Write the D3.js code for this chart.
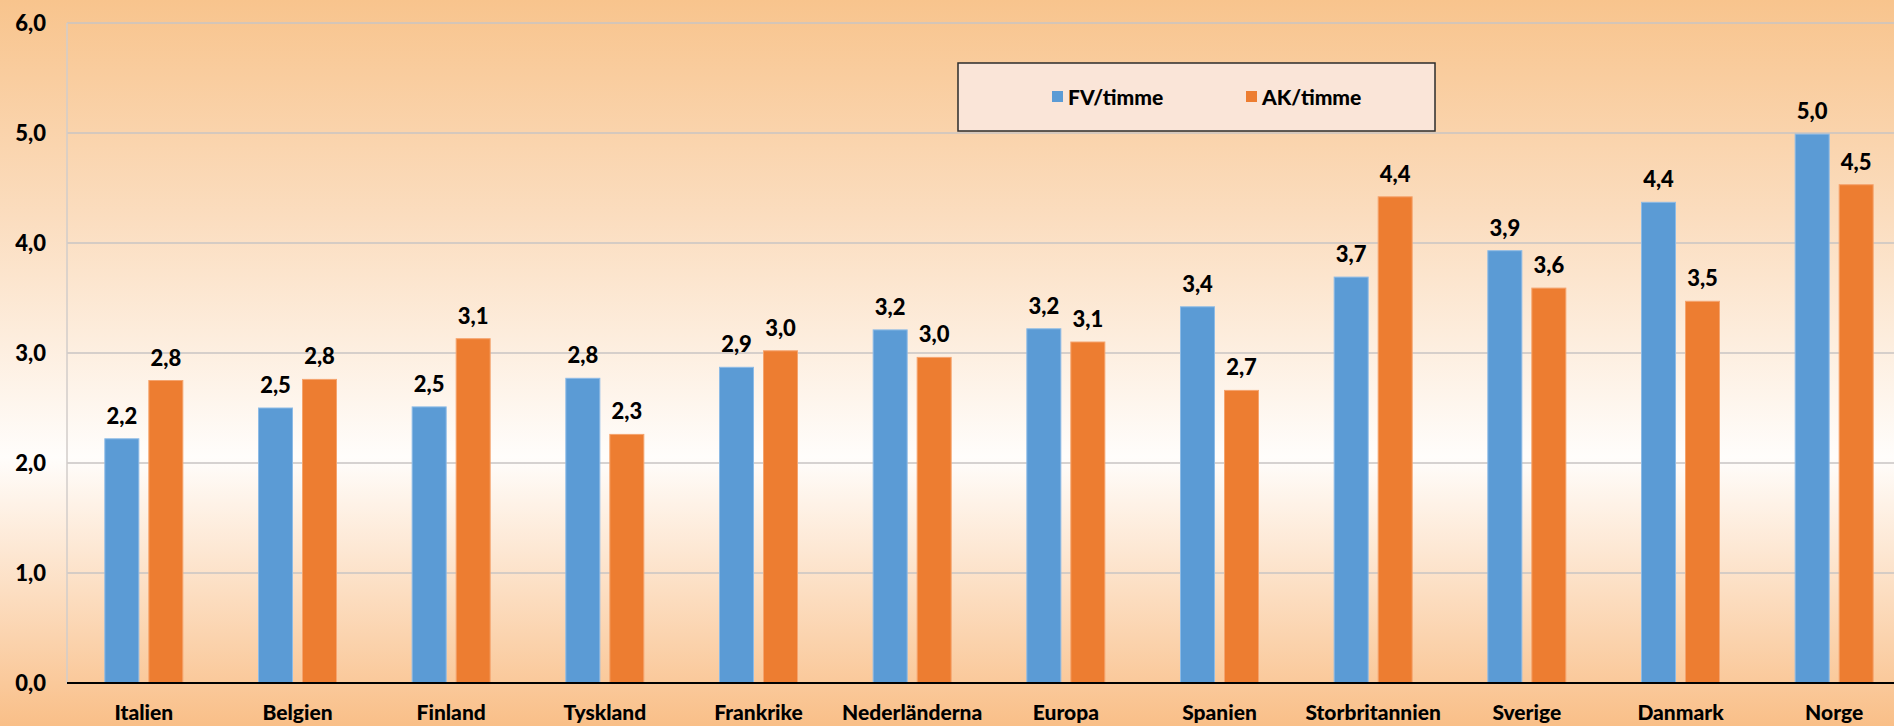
<!DOCTYPE html>
<html>
<head>
<meta charset="utf-8">
<script src="https://cdn.jsdelivr.net/npm/d3@7"></script>
<style>
  body { margin: 0; overflow: hidden; }
  svg { display: block; font-family: Lato, "Open Sans", sans-serif; font-weight: bold; }
</style>
</head>
<body>
<svg id="chart" width="1894" height="726"></svg>
<script>
const categories = ['Italien', 'Belgien', 'Finland', 'Tyskland', 'Frankrike', 'Nederländerna',
  'Europa', 'Spanien', 'Storbritannien', 'Sverige', 'Danmark', 'Norge'];
const fvTimme = [2.22, 2.50, 2.51, 2.77, 2.87, 3.21, 3.22, 3.42, 3.69, 3.93, 4.37, 4.99];
const akTimme = [2.75, 2.76, 3.13, 2.26, 3.02, 2.96, 3.10, 2.66, 4.42, 3.59, 3.47, 4.53];
const seriesNames = ['FV/timme', 'AK/timme'];
const yTicks = [0, 1, 2, 3, 4, 5, 6];

const colors = ['#5B9BD5', '#ED7D31'];
const borders = ['#8DBBE6', '#F5A46E'];

const width = 1894, height = 726;
const margin = { top: 23, left: 67, bottom: 43 };
const plotRight = 1911;

const svg = d3.select('#chart');

// background gradient
const defs = svg.append('defs');
const grad = defs.append('linearGradient')
  .attr('id', 'bg')
  .attr('x1', 0).attr('y1', 0).attr('x2', 0).attr('y2', 1);
grad.append('stop').attr('offset', '0%').attr('stop-color', '#F8C48D');
grad.append('stop').attr('offset', '30%').attr('stop-color', '#FBDDBF');
grad.append('stop').attr('offset', '63%').attr('stop-color', '#FFFDFB');
grad.append('stop').attr('offset', '82%').attr('stop-color', '#FCDDC0');
grad.append('stop').attr('offset', '100%').attr('stop-color', '#F9BF88');

svg.append('rect')
  .attr('width', width)
  .attr('height', height)
  .attr('fill', 'url(#bg)');

const y = d3.scaleLinear()
  .domain([0, 6])
  .range([height - margin.bottom, margin.top]);

const x0 = d3.scaleBand()
  .domain(categories)
  .range([margin.left, plotRight]);

const x1 = d3.scaleBand()
  .domain(seriesNames)
  .range([0, 78])
  .paddingInner(10 / 44);

const fmt = v => d3.format('.1f')(v).replace('.', ',');

// gridlines
svg.append('g')
  .attr('class', 'grid')
  .selectAll('line')
  .data(yTicks.filter(d => d > 0))
  .join('line')
  .attr('x1', margin.left)
  .attr('x2', width)
  .attr('y1', d => y(d))
  .attr('y2', d => y(d))
  .attr('stroke', '#C9C5C3')
  .attr('stroke-width', 1.5);

// left axis line
svg.append('line')
  .attr('x1', margin.left).attr('x2', margin.left)
  .attr('y1', y(6)).attr('y2', y(0))
  .attr('stroke', '#D2CDCA')
  .attr('stroke-width', 1.5);

// y tick labels
svg.append('g')
  .selectAll('text')
  .data(yTicks)
  .join('text')
  .attr('x', 46)
  .attr('y', d => y(d))
  .attr('dy', '0.36em')
  .attr('text-anchor', 'end')
  .attr('font-size', 22)
  .attr('font-weight', 900)
  .attr('fill', '#000')
  .text(d => fmt(d));

// bars
const rows = categories.map((c, i) => ({ cat: c, values: [fvTimme[i], akTimme[i]] }));

const groups = svg.append('g')
  .selectAll('g')
  .data(rows)
  .join('g')
  .attr('transform', d => `translate(${x0(d.cat) + x0.bandwidth() / 2 - 39},0)`);

groups.selectAll('rect')
  .data(d => d.values.map((v, j) => ({ v, j })))
  .join('rect')
  .attr('x', d => x1(seriesNames[d.j]))
  .attr('width', x1.bandwidth())
  .attr('y', d => y(d.v))
  .attr('height', d => y(0) - y(d.v))
  .attr('fill', d => colors[d.j])
  .attr('stroke', d => borders[d.j])
  .attr('stroke-width', 1);

groups.selectAll('text')
  .data(d => d.values.map((v, j) => ({ v, j })))
  .join('text')
  .attr('x', d => x1(seriesNames[d.j]) + x1.bandwidth() / 2)
  .attr('y', d => y(d.v) - 15)
  .attr('text-anchor', 'middle')
  .attr('font-size', 22)
  .attr('font-weight', 900)
  .attr('fill', '#000')
  .text(d => fmt(d.v));

// zero line
svg.append('line')
  .attr('x1', margin.left).attr('x2', width)
  .attr('y1', y(0)).attr('y2', y(0))
  .attr('stroke', '#000')
  .attr('stroke-width', 2);

// category labels
svg.append('g')
  .selectAll('text')
  .data(categories)
  .join('text')
  .attr('x', d => x0(d) + x0.bandwidth() / 2)
  .attr('y', 720)
  .attr('text-anchor', 'middle')
  .attr('font-size', 21)
  .attr('font-weight', 900)
  .attr('fill', '#000')
  .text(d => d);

// legend
const legend = svg.append('g');
legend.append('rect')
  .attr('x', 958).attr('y', 63)
  .attr('width', 477).attr('height', 68)
  .attr('fill', '#FAE5D8')
  .attr('stroke', '#2B2B2B')
  .attr('stroke-width', 1.5);

const legendX = [1052, 1246];
const items = legend.selectAll('g.item')
  .data(seriesNames)
  .join('g')
  .attr('class', 'item')
  .attr('transform', (d, i) => `translate(${legendX[i]},91)`);
items.append('rect')
  .attr('width', 11).attr('height', 11)
  .attr('fill', (d, i) => colors[i]);
items.append('text')
  .attr('x', 16)
  .attr('y', 6)
  .attr('dy', '0.36em')
  .attr('font-size', 21)
  .attr('font-weight', 900)
  .attr('fill', '#000')
  .text(d => d);
</script>
</body>
</html>
